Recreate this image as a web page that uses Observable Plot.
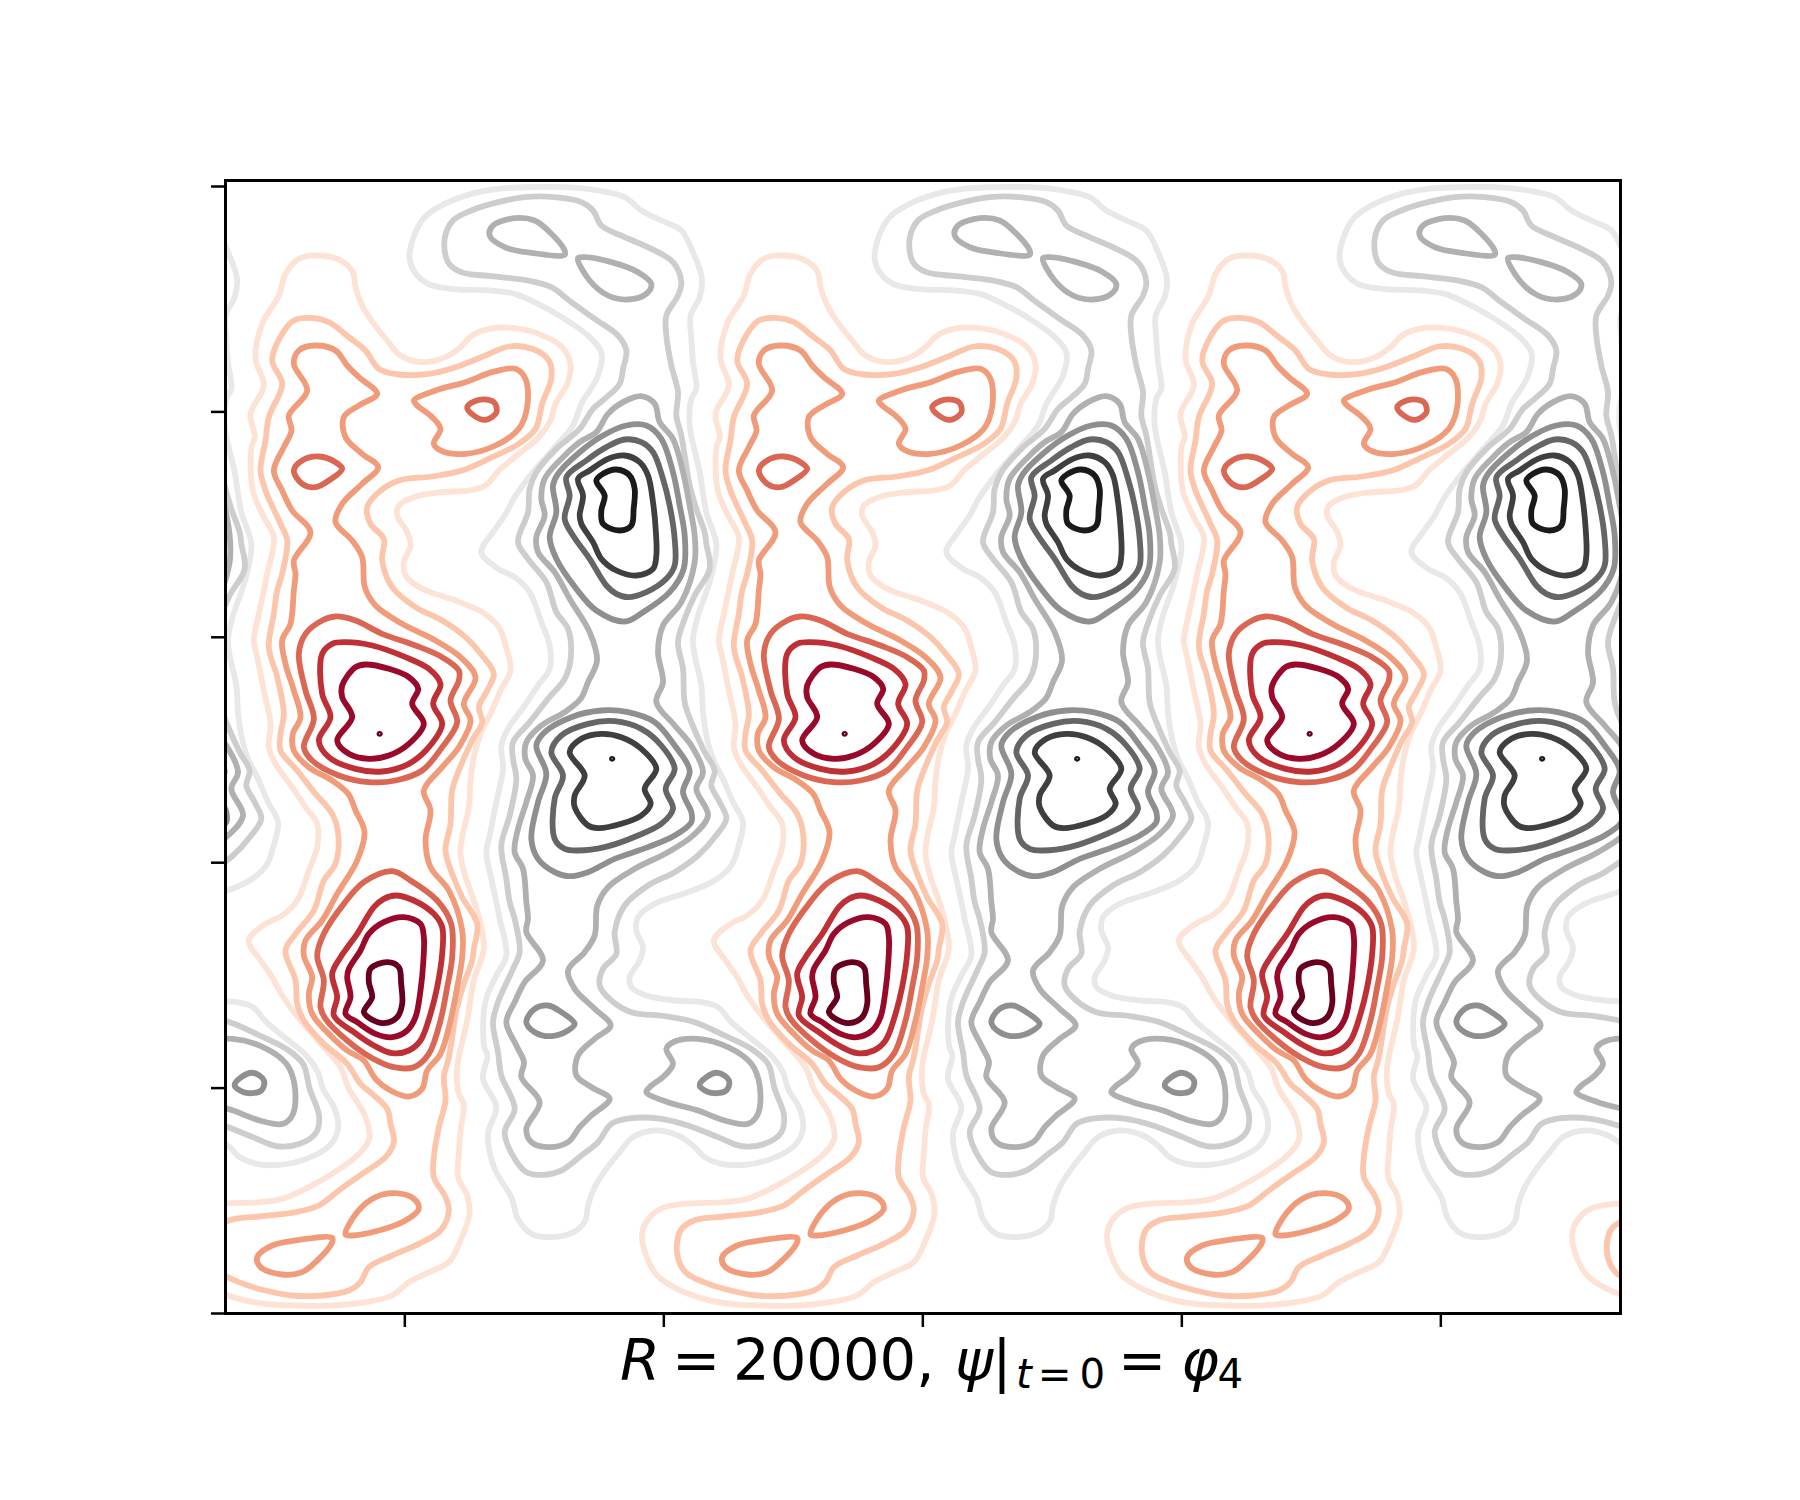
<!DOCTYPE html>
<html><head><meta charset="utf-8">
<script src="https://cdn.jsdelivr.net/npm/d3@7"></script>
<script src="https://cdn.jsdelivr.net/npm/@observablehq/plot@0.6"></script>
<style>html,body{margin:0;padding:0;background:#fff}svg{display:block}</style>
</head><body><div id="chart"></div>
<script>
// Contours of one spatial period, positive-vorticity side (flat x,y lists)
const level1 = [[460,45,530,62,562,95,570,140,590,195,625,250,665,300,705,345,770,365,840,350,885,320,920,285,970,265,1040,262,1120,280,1190,320,1215,370,1205,430,1170,490,1155,540,1120,590,1060,640,1000,690,960,735,910,750,830,755,745,770,700,795,695,825,725,875,735,915,715,965,720,1005,770,1045,840,1070,870,1080,950,1115,1000,1160,1022,1220,1035,1290,1005,1350,975,1420,945,1480,925,1550,915,1620,910,1700,890,1790,885,1840,900,1910,925,1980,945,2050,955,2125,925,2220,905,2340,875,2480,880,2560,895,2590,885,2670,880,2740,878,2810,905,2865,912,2920,885,3000,850,3065,790,3095,730,3125,680,3165,600,3185,500,3195,400,3195,300,3190,220,3175,140,3145,80,3105,45,3040,35,2980,50,2940,90,2905,160,2890,280,2885,350,2875,420,2845,500,2800,570,2750,605,2710,612,2690,598,2625,575,2585,550,2545,525,2480,475,2420,405,2340,350,2265,320,2210,285,2160,250,2100,300,2050,350,2025,395,1980,430,1890,455,1820,455,1750,420,1700,380,1640,330,1570,310,1520,315,1450,295,1350,275,1250,265,1200,280,1120,295,1050,305,1000,325,890,295,830,262,750,258,620,268,590,255,520,295,435,270,355,290,250,340,165,360,100,400,55]];
const level2 = [[435,232,490,245,550,290,600,330,640,385,700,402,790,400,870,380,960,345,1030,318,1100,325,1150,360,1158,410,1130,490,1110,565,1060,610,980,650,890,690,800,708,700,720,640,755,605,800,615,850,655,895,650,960,680,1040,750,1100,830,1140,900,1190,950,1245,985,1300,965,1350,940,1400,950,1445,920,1500,880,1590,860,1650,855,1750,840,1830,860,1900,890,1970,935,2050,925,2125,920,2160,895,2230,875,2300,850,2450,835,2510,840,2580,820,2660,805,2750,805,2810,840,2870,850,2910,825,2970,760,3010,680,3045,610,3080,585,3125,550,3150,470,3165,380,3165,300,3150,220,3125,165,3095,140,3040,150,2970,190,2940,280,2928,390,2915,460,2895,520,2850,590,2800,660,2750,685,2705,675,2650,665,2605,620,2560,585,2530,545,2470,475,2410,415,2340,395,2290,390,2220,360,2130,390,2080,445,2010,475,1920,510,1870,518,1780,500,1720,450,1660,395,1590,345,1530,345,1480,355,1420,335,1310,310,1220,325,1120,335,1050,350,1000,365,900,345,850,300,750,285,690,300,600,310,530,350,430,320,360,350,280,385,240]];
const level3 = [
 [450,315,510,330,545,375,580,410,635,460,580,495,535,530,540,590,590,640,638,680,590,730,530,790,510,845,560,900,590,950,598,1040,630,1095,710,1150,810,1200,885,1250,930,1310,895,1390,915,1440,880,1520,830,1580,775,1650,795,1710,780,1800,795,1880,850,1950,890,2070,890,2150,875,2240,855,2340,825,2440,785,2490,770,2545,730,2568,675,2550,630,2515,595,2460,545,2430,495,2385,440,2320,430,2260,440,2210,415,2145,420,2100,470,2040,515,1960,575,1860,597,1775,570,1710,548,1660,500,1620,430,1580,385,1530,382,1480,405,1430,385,1350,360,1270,350,1200,375,1150,385,1050,390,1000,385,960,435,875,380,810,350,750,325,690,355,620,378,570,370,525,425,450,385,370,400,330],
 [745,480,810,450,900,425,980,395,1050,385,1080,415,1085,500,1060,565,990,615,900,640,830,632,805,610,825,565,800,530,755,495],
 [540,2982,575,2915,630,2870,690,2858,745,2875,760,2905,720,2940,640,2970,560,2985],
 [500,2992,400,2998,320,3015,275,3050,285,3080,350,3102,410,3095,450,3065,500,3005]];
const level4 = [
 [905,500,940,478,985,485,993,515,960,538,925,525],
 [385,690,410,660,460,648,510,665,530,685,490,720,450,740,410,730],
 [510,1128,570,1140,650,1180,750,1215,830,1250,880,1290,880,1320,855,1380,875,1445,830,1520,770,1590,690,1620,610,1625,520,1605,440,1560,415,1520,445,1435,420,1350,400,1240,420,1180,470,1140],
 [680,1892,735,1920,815,1980,857,2050,860,2150,845,2240,825,2340,790,2440,745,2480,685,2480,615,2450,545,2400,480,2335,465,2300,475,2220,455,2145,475,2080,535,1990,595,1925]];
const level5 = [
 [540,1205,620,1215,720,1250,790,1285,825,1330,803,1390,830,1450,790,1520,730,1570,650,1593,570,1585,490,1550,460,1500,495,1430,470,1360,470,1240,500,1210],
 [690,1965,745,1980,805,2020,830,2060,830,2140,815,2240,795,2320,765,2400,730,2430,680,2438,625,2415,565,2375,505,2325,515,2270,500,2200,525,2150,575,2080,625,2000,655,1975]];
const level6 = [
 [600,1272,670,1285,730,1310,758,1345,740,1390,775,1450,730,1510,670,1545,610,1555,550,1540,515,1500,560,1430,530,1370,530,1335,570,1280],
 [715,2030,765,2050,775,2090,773,2170,765,2250,750,2330,725,2370,680,2390,630,2380,575,2345,540,2320,555,2270,545,2210,550,2185,585,2130,610,2080,655,2045]];
const level7 = [
 [665,2165,700,2180,707,2230,710,2290,695,2330,655,2348,615,2335,595,2315,620,2270,610,2225,615,2185]];
const level7Tiny = [[637,1482,638,1477,642,1475,647,1477,648,1482,642,1485]];
const levels = [level1, level2, level3, level4, level5, level6, level7];
const redColors  = ["#fde3d5","#fbc6ac","#f09c7b","#da6753","#be3036","#990a2a","#67001f"];
const greyColors = ["#e8e8e8","#cdcdcd","#b0b0b0","#8f8f8f","#656565","#3f3f3f","#1a1a1a"];
const xTicks = [-677,100,877,1654,2431];
const yTicks = [3219,2542.8,1866.6,1190.4,514.2,-162];
const xDomain = [-1215,2970];
const yDomain = [3219,-180];
const period = 1395;            // streamwise period of the pattern
const reflectAbout = 3035;      // shift-reflect symmetry: negative side = shifted half a period, mirrored
const periods = [-2,-1,0,1,2];

function rows(level, negative) {
  const out = [];
  periods.forEach(k => level.forEach((flat, i) => {
    for (let j = 0; j < flat.length; j += 2) {
      out.push(negative
        ? {id: k + "-" + i, x: flat[j] + period / 2 + k * period, y: reflectAbout - flat[j + 1]}
        : {id: k + "-" + i, x: flat[j] + k * period, y: flat[j + 1]});
    }
  }));
  return out;
}
const contour = (lv, negative, color, w) =>
  Plot.line(rows(lv, negative), {x: "x", y: "y", z: "id", stroke: color, strokeWidth: w,
    curve: "catmull-rom-closed", clip: true, strokeLinejoin: "round"});
const lineMarks = (negative, colors) => [
  ...levels.map((lv, i) => contour(lv, negative, colors[i], 5.8)),
  contour(level7Tiny, negative, colors[6], 2.4)
];

// piecewise label: [text, x, baseline, size, italic]
const titlePieces = [
  ["R", 620, 1380, 57.6, true], ["=", 672, 1380, 57.6, false], ["20000,", 733, 1380, 57.6, false],
  ["ψ", 955, 1380, 57.6, true], ["|", 992.3, 1380, 57.6, false], ["t", 1016, 1388, 40.3, true],
  ["=", 1037.7, 1388, 40.3, false], ["0", 1079.4, 1388, 40.3, false], ["=", 1118, 1380, 57.6, false],
  ["φ", 1181, 1380, 57.6, true], ["4", 1217.5, 1388, 40.3, false]
];
function titleMark(index, scales, values, dim, ctx) {
  const g = d3.select(ctx.document.createElementNS("http://www.w3.org/2000/svg", "text"))
    .attr("font-family", "DejaVu Sans").attr("fill", "#000").attr("text-anchor", "start");
  titlePieces.forEach(([s, x, y, fs, it]) => {
    const p = g.append("tspan").text(s).attr("x", x).attr("y", y).attr("font-size", fs);
    if (it) p.attr("font-style", "italic");
  });
  return g.node();
}

const chart = Plot.plot({
  width: 1800, height: 1500,
  marginLeft: 225, marginRight: 180, marginTop: 180, marginBottom: 187,
  x: {domain: xDomain, axis: null},
  y: {domain: yDomain, axis: null},
  marks: [
    ...lineMarks(true, greyColors),
    ...lineMarks(false, redColors),
    Plot.axisX(xTicks, {anchor: "bottom", tickSize: 14, tickFormat: () => "", label: null, strokeWidth: 2.5, stroke: "#000"}),
    Plot.axisY(yTicks, {anchor: "left", tickSize: 14, tickFormat: () => "", label: null, strokeWidth: 2.5, stroke: "#000"}),
    Plot.frame({stroke: "#000", strokeWidth: 3}),
    titleMark
  ]
});
document.getElementById("chart").append(chart);
</script></body></html>
